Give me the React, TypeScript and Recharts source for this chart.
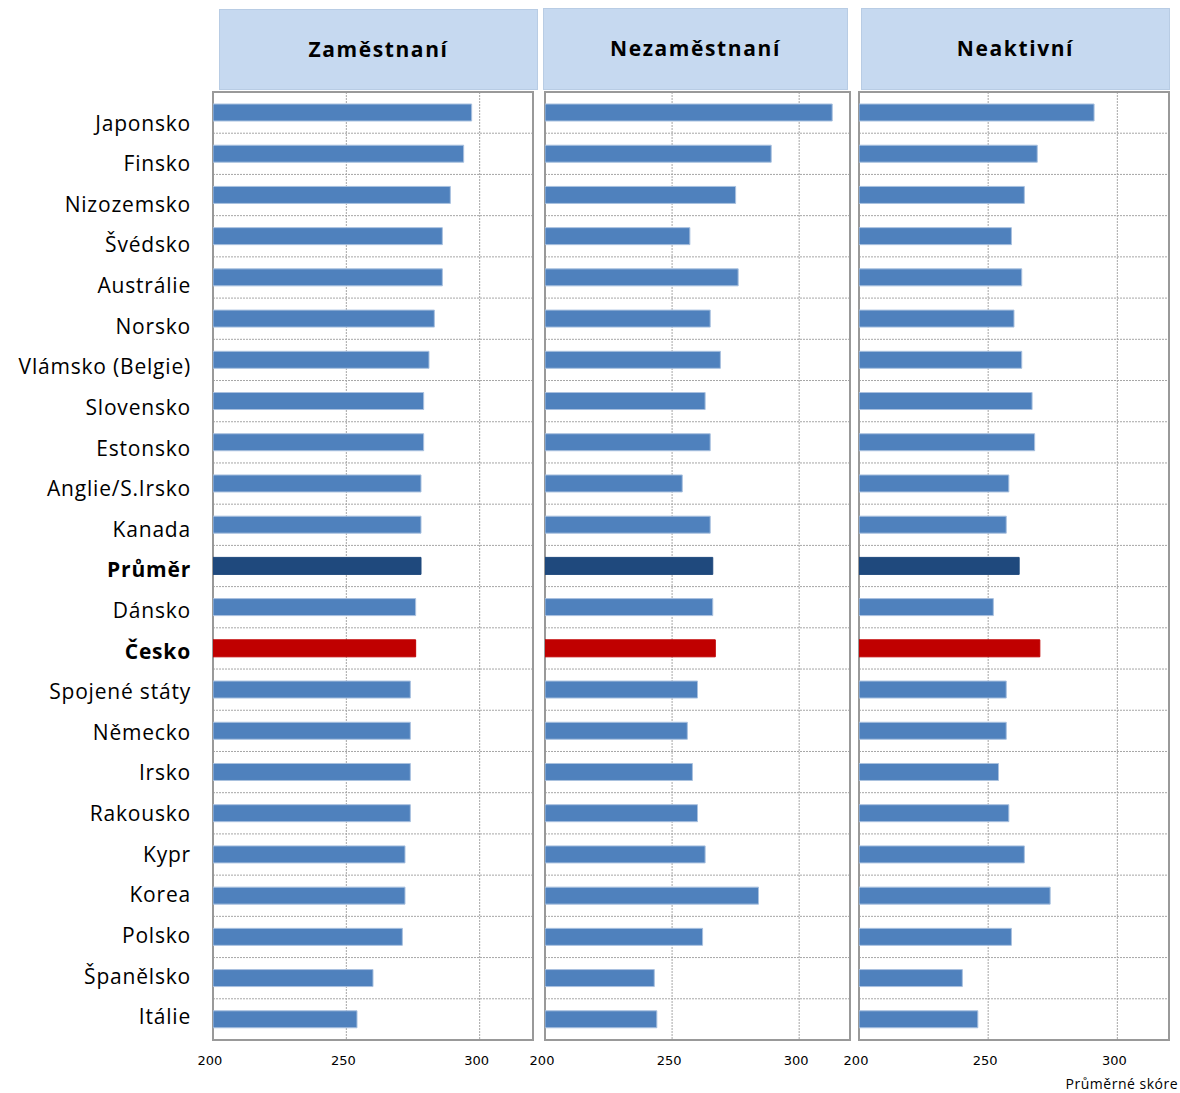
import React from "react";
import { BarChart, Bar, XAxis, YAxis, CartesianGrid, Cell, ReferenceArea } from "recharts";

// PIAAC-like mean scores by labour status
const countries = [
  "Japonsko", "Finsko", "Nizozemsko", "Švédsko", "Austrálie", "Norsko",
  "Vlámsko (Belgie)", "Slovensko", "Estonsko", "Anglie/S.Irsko", "Kanada",
  "Průměr", "Dánsko", "Česko", "Spojené státy", "Německo", "Irsko",
  "Rakousko", "Kypr", "Korea", "Polsko", "Španělsko", "Itálie",
];
const employed = [297, 294, 289, 286, 286, 283, 281, 279, 279, 278, 278, 278, 276, 276, 274, 274, 274, 274, 272, 272, 271, 260, 254];
const unemployed = [313, 289, 275, 257, 276, 265, 269, 263, 265, 254, 265, 266, 266, 267, 260, 256, 258, 260, 263, 284, 262, 243, 244];
const inactive = [291, 269, 264, 259, 263, 260, 263, 267, 268, 258, 257, 262, 252, 270, 257, 257, 254, 258, 264, 274, 259, 240, 246];

const panelTitles = ["Zaměstnaní", "Nezaměstnaní", "Neaktivní"];
const xTicks = [200, 250, 300];

const rows = countries.map((name, i) => ({
  name,
  employed: employed[i],
  unemployed: unemployed[i],
  inactive: inactive[i],
}));

const barColor = (name: string) =>
  name === "Průměr" ? "#1f497d" : name === "Česko" ? "#c00000" : "#4f81bd";
const barStroke = (name: string) =>
  name === "Průměr" ? "#1f497d" : name === "Česko" ? "#c00000" : "#a9c1df";

// the names sit a little tighter than the bars in the original
const NameTick = (props: any) => {
  const { x, y, payload } = props;
  const bold = payload.value === "Průměr" || payload.value === "Česko";
  const idx = countries.indexOf(payload.value);
  return (
    <text
      x={x}
      y={y}
      dy={18 - idx * 0.6}
      textAnchor="end"
      fontSize={21}
      letterSpacing={0.8}
      fontFamily="'Open Sans', sans-serif"
      fontWeight={bold ? 700 : 400}
      fill="#000"
    >
      {payload.value}
    </text>
  );
};

//band boundaries instead of category centres
const bandLines = ({ offset }: any) => {
  const n = countries.length;
  return Array.from({ length: n + 1 }, (_, i) => offset.top + (i * offset.height) / n);
};

interface PanelProps {
  dataKey: string;
  left: number;
  width: number;
  marginLeft: number;
  marginRight: number;
  showNames: boolean;
}

function Panel({ dataKey, left, width, marginLeft, marginRight, showNames }: PanelProps) {
  return (
    <div style={{ position: "absolute", left, top: 0 }}>
      <BarChart
        width={width}
        height={1093}
        data={rows}
        layout="vertical"
        margin={{ top: 92, right: marginRight, left: marginLeft, bottom: 20 }}
        barCategoryGap={0}
      >
        <CartesianGrid
          stroke="#a6a6a6"
          strokeDasharray="2 1"
          horizontalCoordinatesGenerator={bandLines}
        />
        <XAxis
          type="number"
          domain={[200, 320]}
          ticks={xTicks}
          allowDataOverflow
          height={33}
          tickLine={false}
          axisLine={false}
          tickMargin={10}
          tick={{ fontSize: 13, fontFamily: "DejaVu Sans", fill: "#000", dx: -3 }}
        />
        <YAxis
          type="category"
          dataKey="name"
          width={showNames ? 213 : 0}
          hide={!showNames}
          axisLine={false}
          tickLine={false}
          tickMargin={16}
          interval={0}
          tick={<NameTick />}
        />
        <ReferenceArea x1={200} x2={320} fill="none" stroke="#999999" strokeWidth={2} />
        <Bar dataKey={dataKey} barSize={17} isAnimationActive={false}>
          {rows.map((r, i) => (
            <Cell key={`c-${i}`} fill={barColor(r.name)} stroke={barStroke(r.name)} />
          ))}
        </Bar>
      </BarChart>
    </div>
  );
}

const headerStyle: React.CSSProperties = {
  position: "absolute",
  background: "#c6d9f0",
  border: "1px solid #b8cce4",
  boxSizing: "border-box",
  display: "flex",
  alignItems: "center",
  justifyContent: "center",
  fontFamily: "'Open Sans', sans-serif",
  fontWeight: 700,
  fontSize: 21,
  letterSpacing: 1.6,
  color: "#000",
};

export default function App() {
  const headers = [
    { left: 219, top: 9, width: 319, height: 81 },
    { left: 543, top: 8, width: 305, height: 82 },
    { left: 861, top: 8, width: 309, height: 82 },
  ];
  return (
    <div style={{ position: "absolute", left: 0, top: 0, width: 1180, height: 1093, background: "#fff" }}>
      {headers.map((h, i) => (
        <div key={i} style={{ ...headerStyle, ...h, paddingBottom: 2 }}>
          {panelTitles[i]}
        </div>
      ))}
      <Panel dataKey="employed" left={0} width={540} marginLeft={0} marginRight={7} showNames />
      <Panel dataKey="unemployed" left={530} width={330} marginLeft={15} marginRight={10} showNames={false} />
      <Panel dataKey="inactive" left={844} width={335} marginLeft={15} marginRight={10} showNames={false} />
      <div
        style={{
          position: "absolute",
          right: 2,
          top: 1074,
          fontFamily: "'Open Sans', sans-serif",
          fontSize: 14,
          letterSpacing: 0.5,
          color: "#000",
        }}
      >
        Průměrné skóre
      </div>
    </div>
  );
}
